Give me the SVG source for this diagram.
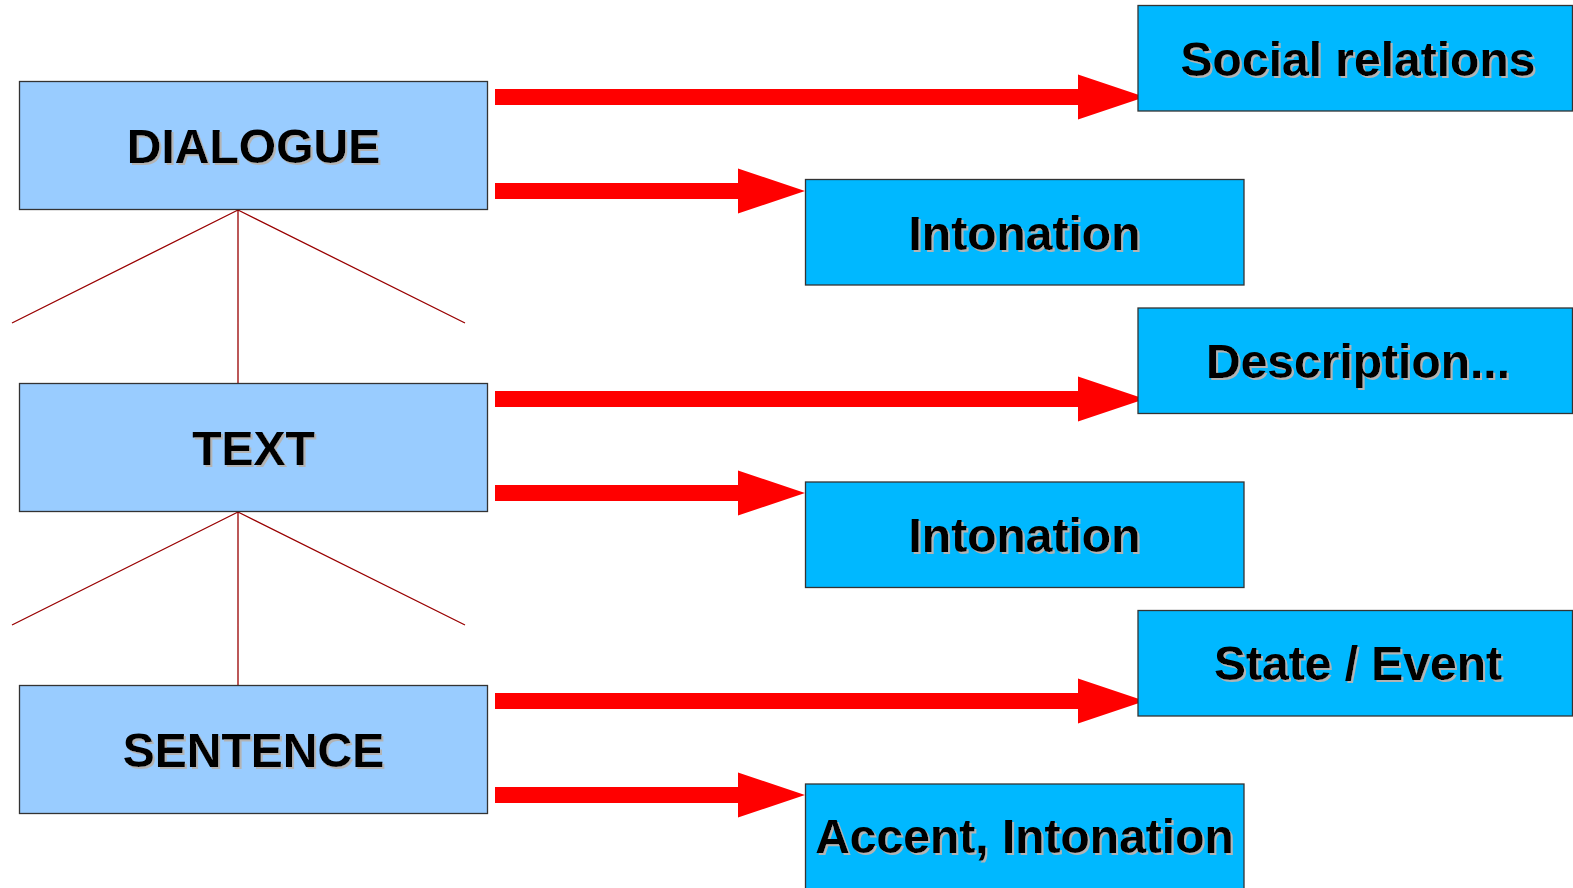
<svg xmlns="http://www.w3.org/2000/svg" width="1573" height="888" viewBox="0 0 1573 888">
<defs>
<filter id="ts" x="-5%" y="-20%" width="110%" height="140%">
<feFlood flood-color="#b3b3b3" result="c"/>
<feComposite in="c" in2="SourceAlpha" operator="in" result="s"/>
<feOffset in="s" dx="2" dy="2" result="o"/>
<feMerge><feMergeNode in="o"/><feMergeNode in="SourceGraphic"/></feMerge>
</filter>
</defs>
<style>
.l{fill:#99ccff;stroke:#333;stroke-width:1.3}
.r{fill:#00b8ff;stroke:#333;stroke-width:1.3}
.t{font-family:"Liberation Sans",Arial,sans-serif;font-weight:bold;font-size:48px;fill:#000;text-anchor:middle;filter:url(#ts)}
.tree{stroke:#990000;stroke-width:1.3;fill:none}
.arr{fill:#ff0000}
</style>
<rect width="1573" height="888" fill="#fff"/>
<g id="connectors">
<path class="tree" d="M238,210 L12,323 M238,210 L465,323 M238,210 L238,384"/>
<path class="tree" d="M238,512 L12,625 M238,512 L465,625 M238,512 L238,686"/>
<polygon class="arr" points="495,89 1078,89 1078,74.5 1145,97 1078,119.5 1078,105 495,105"/>
<polygon class="arr" points="495,183 738,183 738,168.5 805,191 738,213.5 738,199 495,199"/>
<polygon class="arr" points="495,391 1078,391 1078,376.5 1145,399 1078,421.5 1078,407 495,407"/>
<polygon class="arr" points="495,485 738,485 738,470.5 805,493 738,515.5 738,501 495,501"/>
<polygon class="arr" points="495,693 1078,693 1078,678.5 1145,701 1078,723.5 1078,709 495,709"/>
<polygon class="arr" points="495,787 738,787 738,772.5 805,795 738,817.5 738,803 495,803"/>
</g>
<g id="dialogue"><rect class="l" x="19.5" y="81.5" width="468" height="128"/><text class="t" x="253.5" y="163">DIALOGUE</text></g>
<g id="text"><rect class="l" x="19.5" y="383.5" width="468" height="128"/><text class="t" x="253.5" y="465">TEXT</text></g>
<g id="sentence"><rect class="l" x="19.5" y="685.5" width="468" height="128"/><text class="t" x="253.5" y="767">SENTENCE</text></g>
<g id="social"><rect class="r" x="1138" y="5.5" width="434.5" height="105.5"/><text class="t" x="1358" y="76">Social relations</text></g>
<g id="intonation1"><rect class="r" x="805.5" y="179.5" width="438.5" height="105.5"/><text class="t" x="1024.5" y="250">Intonation</text></g>
<g id="description"><rect class="r" x="1138" y="308" width="434.5" height="105.5"/><text class="t" x="1358" y="378">Description...</text></g>
<g id="intonation2"><rect class="r" x="805.5" y="482" width="438.5" height="105.5"/><text class="t" x="1024.5" y="552">Intonation</text></g>
<g id="state"><rect class="r" x="1138" y="610.5" width="434.5" height="105.5"/><text class="t" x="1358" y="680">State / Event</text></g>
<g id="accent"><rect class="r" x="805.5" y="784" width="438.5" height="105.5"/><text class="t" x="1024.5" y="853">Accent, Intonation</text></g>
</svg>
